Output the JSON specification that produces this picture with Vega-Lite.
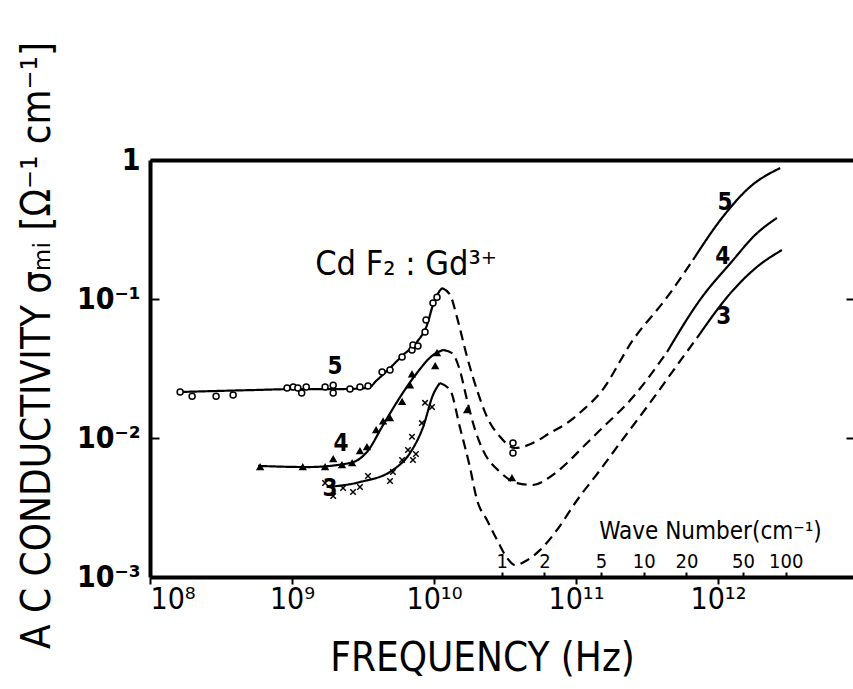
{
  "$schema": "https://vega.github.io/schema/vega-lite/v6.json",
  "width": 703,
  "height": 417,
  "autosize": {"type": "none"},
  "padding": {"left": 150, "top": 160, "right": 0, "bottom": 112},
  "background": "white",
  "config": {
    "view": {"stroke": null},
    "font": "DejaVu Sans Condensed, Liberation Sans Narrow, DejaVu Sans",
    "axis": {"grid": false, "domainColor": "black", "tickColor": "black", "labelColor": "black", "titleColor": "black",
      "labelFont": "DejaVu Sans Condensed, Liberation Sans Narrow, DejaVu Sans", "titleFont": "DejaVu Sans Condensed, Liberation Sans Narrow, DejaVu Sans", "titleFontWeight": "normal"}
  },
  "datasets": {
    "curves": [
      {"curve": "5", "segment": "5a", "style": "solid", "freq": 1.55e8, "sigma": 0.0214},
      {"curve": "5", "segment": "5a", "style": "solid", "freq": 5.06e8, "sigma": 0.0221},
      {"curve": "5", "segment": "5a", "style": "solid", "freq": 1.14e9, "sigma": 0.0225},
      {"curve": "5", "segment": "5a", "style": "solid", "freq": 2.18e9, "sigma": 0.0225},
      {"curve": "5", "segment": "5a", "style": "solid", "freq": 3.43e9, "sigma": 0.0229},
      {"curve": "5", "segment": "5a", "style": "solid", "freq": 3.97e9, "sigma": 0.0261},
      {"curve": "5", "segment": "5a", "style": "solid", "freq": 4.90e9, "sigma": 0.0319},
      {"curve": "5", "segment": "5a", "style": "solid", "freq": 6.05e9, "sigma": 0.0395},
      {"curve": "5", "segment": "5a", "style": "solid", "freq": 7.59e9, "sigma": 0.0491},
      {"curve": "5", "segment": "5a", "style": "solid", "freq": 8.93e9, "sigma": 0.0650},
      {"curve": "5", "segment": "5a", "style": "solid", "freq": 9.84e9, "sigma": 0.0906},
      {"curve": "5", "segment": "5a", "style": "solid", "freq": 1.07e10, "sigma": 0.110},
      {"curve": "5", "segment": "5a", "style": "solid", "freq": 1.14e10, "sigma": 0.120},
      {"curve": "5", "segment": "5b", "style": "dashed", "freq": 1.14e10, "sigma": 0.120},
      {"curve": "5", "segment": "5b", "style": "dashed", "freq": 1.30e10, "sigma": 0.107},
      {"curve": "5", "segment": "5b", "style": "dashed", "freq": 1.45e10, "sigma": 0.0743},
      {"curve": "5", "segment": "5b", "style": "dashed", "freq": 1.71e10, "sigma": 0.0383},
      {"curve": "5", "segment": "5b", "style": "dashed", "freq": 2.01e10, "sigma": 0.0221},
      {"curve": "5", "segment": "5b", "style": "dashed", "freq": 2.36e10, "sigma": 0.0142},
      {"curve": "5", "segment": "5b", "style": "dashed", "freq": 2.92e10, "sigma": 0.0102},
      {"curve": "5", "segment": "5b", "style": "dashed", "freq": 3.72e10, "sigma": 0.00847},
      {"curve": "5", "segment": "5b", "style": "dashed", "freq": 4.98e10, "sigma": 0.00920},
      {"curve": "5", "segment": "5b", "style": "dashed", "freq": 6.56e10, "sigma": 0.01086},
      {"curve": "5", "segment": "5b", "style": "dashed", "freq": 8.65e10, "sigma": 0.0128},
      {"curve": "5", "segment": "5b", "style": "dashed", "freq": 1.12e11, "sigma": 0.0159},
      {"curve": "5", "segment": "5b", "style": "dashed", "freq": 1.48e11, "sigma": 0.0211},
      {"curve": "5", "segment": "5b", "style": "dashed", "freq": 2.52e11, "sigma": 0.0507},
      {"curve": "5", "segment": "5b", "style": "dashed", "freq": 4.38e11, "sigma": 0.103},
      {"curve": "5", "segment": "5b", "style": "dashed", "freq": 6.67e11, "sigma": 0.191},
      {"curve": "5", "segment": "5c", "style": "solid", "freq": 6.67e11, "sigma": 0.191},
      {"curve": "5", "segment": "5c", "style": "solid", "freq": 1.08e12, "sigma": 0.389},
      {"curve": "5", "segment": "5c", "style": "solid", "freq": 1.68e12, "sigma": 0.640},
      {"curve": "5", "segment": "5c", "style": "solid", "freq": 2.74e12, "sigma": 0.875},
      {"curve": "4", "segment": "4a", "style": "solid", "freq": 5.77e8, "sigma": 0.00630},
      {"curve": "4", "segment": "4a", "style": "solid", "freq": 1.28e9, "sigma": 0.00618},
      {"curve": "4", "segment": "4a", "style": "solid", "freq": 2.56e9, "sigma": 0.00661},
      {"curve": "4", "segment": "4a", "style": "solid", "freq": 3.37e9, "sigma": 0.00793},
      {"curve": "4", "segment": "4a", "style": "solid", "freq": 4.38e9, "sigma": 0.0124},
      {"curve": "4", "segment": "4a", "style": "solid", "freq": 5.77e9, "sigma": 0.0197},
      {"curve": "4", "segment": "4a", "style": "solid", "freq": 7.59e9, "sigma": 0.0294},
      {"curve": "4", "segment": "4a", "style": "solid", "freq": 9.84e9, "sigma": 0.0395},
      {"curve": "4", "segment": "4a", "style": "solid", "freq": 1.16e10, "sigma": 0.0430},
      {"curve": "4", "segment": "4b", "style": "dashed", "freq": 1.16e10, "sigma": 0.0430},
      {"curve": "4", "segment": "4b", "style": "dashed", "freq": 1.34e10, "sigma": 0.0408},
      {"curve": "4", "segment": "4b", "style": "dashed", "freq": 1.52e10, "sigma": 0.0308},
      {"curve": "4", "segment": "4b", "style": "dashed", "freq": 1.71e10, "sigma": 0.0187},
      {"curve": "4", "segment": "4b", "style": "dashed", "freq": 1.95e10, "sigma": 0.0114},
      {"curve": "4", "segment": "4b", "style": "dashed", "freq": 2.21e10, "sigma": 0.00820},
      {"curve": "4", "segment": "4b", "style": "dashed", "freq": 2.92e10, "sigma": 0.00569},
      {"curve": "4", "segment": "4b", "style": "dashed", "freq": 3.85e10, "sigma": 0.00474},
      {"curve": "4", "segment": "4b", "style": "dashed", "freq": 4.98e10, "sigma": 0.00459},
      {"curve": "4", "segment": "4b", "style": "dashed", "freq": 6.56e10, "sigma": 0.00524},
      {"curve": "4", "segment": "4b", "style": "dashed", "freq": 8.65e10, "sigma": 0.00661},
      {"curve": "4", "segment": "4b", "style": "dashed", "freq": 1.12e11, "sigma": 0.00861},
      {"curve": "4", "segment": "4b", "style": "dashed", "freq": 1.48e11, "sigma": 0.0114},
      {"curve": "4", "segment": "4b", "style": "dashed", "freq": 2.52e11, "sigma": 0.0197},
      {"curve": "4", "segment": "4b", "style": "dashed", "freq": 4.38e11, "sigma": 0.0416},
      {"curve": "4", "segment": "4c", "style": "solid", "freq": 4.38e11, "sigma": 0.0416},
      {"curve": "4", "segment": "4c", "style": "solid", "freq": 7.46e11, "sigma": 0.0984},
      {"curve": "4", "segment": "4c", "style": "solid", "freq": 1.28e12, "sigma": 0.191},
      {"curve": "4", "segment": "4c", "style": "solid", "freq": 1.82e12, "sigma": 0.288},
      {"curve": "4", "segment": "4c", "style": "solid", "freq": 2.60e12, "sigma": 0.383},
      {"curve": "3", "segment": "3a", "style": "solid", "freq": 1.76e9, "sigma": 0.00444},
      {"curve": "3", "segment": "3a", "style": "solid", "freq": 3.01e9, "sigma": 0.00482},
      {"curve": "3", "segment": "3a", "style": "solid", "freq": 5.14e9, "sigma": 0.00589},
      {"curve": "3", "segment": "3a", "style": "solid", "freq": 6.78e9, "sigma": 0.00780},
      {"curve": "3", "segment": "3a", "style": "solid", "freq": 8.38e9, "sigma": 0.0120},
      {"curve": "3", "segment": "3a", "style": "solid", "freq": 9.84e9, "sigma": 0.0204},
      {"curve": "3", "segment": "3a", "style": "solid", "freq": 1.10e10, "sigma": 0.0249},
      {"curve": "3", "segment": "3b", "style": "dashed", "freq": 1.10e10, "sigma": 0.0249},
      {"curve": "3", "segment": "3b", "style": "dashed", "freq": 1.30e10, "sigma": 0.0221},
      {"curve": "3", "segment": "3b", "style": "dashed", "freq": 1.52e10, "sigma": 0.0120},
      {"curve": "3", "segment": "3b", "style": "dashed", "freq": 1.79e10, "sigma": 0.00618},
      {"curve": "3", "segment": "3b", "style": "dashed", "freq": 2.01e10, "sigma": 0.00358},
      {"curve": "3", "segment": "3b", "style": "dashed", "freq": 2.36e10, "sigma": 0.00257},
      {"curve": "3", "segment": "3b", "style": "dashed", "freq": 2.78e10, "sigma": 0.00185},
      {"curve": "3", "segment": "3b", "style": "dashed", "freq": 3.27e10, "sigma": 0.00137},
      {"curve": "3", "segment": "3b", "style": "dashed", "freq": 3.72e10, "sigma": 0.00122},
      {"curve": "3", "segment": "3b", "style": "dashed", "freq": 4.52e10, "sigma": 0.00132},
      {"curve": "3", "segment": "3b", "style": "dashed", "freq": 5.57e10, "sigma": 0.00156},
      {"curve": "3", "segment": "3b", "style": "dashed", "freq": 7.35e10, "sigma": 0.00218},
      {"curve": "3", "segment": "3b", "style": "dashed", "freq": 1.02e11, "sigma": 0.00358},
      {"curve": "3", "segment": "3b", "style": "dashed", "freq": 1.48e11, "sigma": 0.00589},
      {"curve": "3", "segment": "3b", "style": "dashed", "freq": 2.04e11, "sigma": 0.00920},
      {"curve": "3", "segment": "3b", "style": "dashed", "freq": 3.32e11, "sigma": 0.0179},
      {"curve": "3", "segment": "3b", "style": "dashed", "freq": 5.68e11, "sigma": 0.0383},
      {"curve": "3", "segment": "3b", "style": "dashed", "freq": 7.11e11, "sigma": 0.0524},
      {"curve": "3", "segment": "3c", "style": "solid", "freq": 7.11e11, "sigma": 0.0524},
      {"curve": "3", "segment": "3c", "style": "solid", "freq": 1.28e12, "sigma": 0.116},
      {"curve": "3", "segment": "3c", "style": "solid", "freq": 1.88e12, "sigma": 0.170},
      {"curve": "3", "segment": "3c", "style": "solid", "freq": 2.82e12, "sigma": 0.225}
    ],
    "points": [
      {"curve": "5", "freq": 1.63e8, "sigma": 0.0214},
      {"curve": "5", "freq": 1.98e8, "sigma": 0.0200},
      {"curve": "5", "freq": 2.92e8, "sigma": 0.0200},
      {"curve": "5", "freq": 3.85e8, "sigma": 0.0204},
      {"curve": "5", "freq": 9.23e8, "sigma": 0.0229},
      {"curve": "5", "freq": 1.02e9, "sigma": 0.0233},
      {"curve": "5", "freq": 1.10e9, "sigma": 0.0229},
      {"curve": "5", "freq": 1.17e9, "sigma": 0.0211},
      {"curve": "5", "freq": 1.26e9, "sigma": 0.0233},
      {"curve": "5", "freq": 1.71e9, "sigma": 0.0233},
      {"curve": "5", "freq": 1.95e9, "sigma": 0.0240},
      {"curve": "5", "freq": 1.95e9, "sigma": 0.0211},
      {"curve": "5", "freq": 2.56e9, "sigma": 0.0225},
      {"curve": "5", "freq": 3.01e9, "sigma": 0.0233},
      {"curve": "5", "freq": 3.43e9, "sigma": 0.0237},
      {"curve": "5", "freq": 4.31e9, "sigma": 0.0299},
      {"curve": "5", "freq": 4.90e9, "sigma": 0.0308},
      {"curve": "5", "freq": 5.96e9, "sigma": 0.0383},
      {"curve": "5", "freq": 7.00e9, "sigma": 0.0430},
      {"curve": "5", "freq": 7.11e9, "sigma": 0.0467},
      {"curve": "5", "freq": 7.71e9, "sigma": 0.0459},
      {"curve": "5", "freq": 8.65e9, "sigma": 0.0579},
      {"curve": "5", "freq": 8.79e9, "sigma": 0.0706},
      {"curve": "5", "freq": 9.84e9, "sigma": 0.0935},
      {"curve": "5", "freq": 1.05e10, "sigma": 0.103},
      {"curve": "5", "freq": 3.60e10, "sigma": 0.0092},
      {"curve": "5", "freq": 3.60e10, "sigma": 0.0078},
      {"curve": "4", "freq": 5.96e8, "sigma": 0.00618},
      {"curve": "4", "freq": 1.19e9, "sigma": 0.00618},
      {"curve": "4", "freq": 1.71e9, "sigma": 0.00618},
      {"curve": "4", "freq": 1.95e9, "sigma": 0.00706},
      {"curve": "4", "freq": 2.25e9, "sigma": 0.00640},
      {"curve": "4", "freq": 2.65e9, "sigma": 0.00661},
      {"curve": "4", "freq": 3.01e9, "sigma": 0.00805},
      {"curve": "4", "freq": 3.37e9, "sigma": 0.00861},
      {"curve": "4", "freq": 3.91e9, "sigma": 0.0114},
      {"curve": "4", "freq": 4.38e9, "sigma": 0.0132},
      {"curve": "4", "freq": 4.90e9, "sigma": 0.0139},
      {"curve": "4", "freq": 5.96e9, "sigma": 0.0182},
      {"curve": "4", "freq": 6.78e9, "sigma": 0.0240},
      {"curve": "4", "freq": 7.00e9, "sigma": 0.0288},
      {"curve": "4", "freq": 1.02e10, "sigma": 0.0330},
      {"curve": "4", "freq": 1.05e10, "sigma": 0.0409},
      {"curve": "4", "freq": 1.71e10, "sigma": 0.0159},
      {"curve": "4", "freq": 3.54e10, "sigma": 0.00515},
      {"curve": "3", "freq": 1.71e9, "sigma": 0.00474},
      {"curve": "3", "freq": 1.95e9, "sigma": 0.00383},
      {"curve": "3", "freq": 2.29e9, "sigma": 0.00437},
      {"curve": "3", "freq": 2.69e9, "sigma": 0.00409},
      {"curve": "3", "freq": 3.01e9, "sigma": 0.00444},
      {"curve": "3", "freq": 3.43e9, "sigma": 0.00533},
      {"curve": "3", "freq": 4.90e9, "sigma": 0.00491},
      {"curve": "3", "freq": 5.14e9, "sigma": 0.00569},
      {"curve": "3", "freq": 5.96e9, "sigma": 0.00695},
      {"curve": "3", "freq": 6.56e9, "sigma": 0.00820},
      {"curve": "3", "freq": 7.00e9, "sigma": 0.0102},
      {"curve": "3", "freq": 7.11e9, "sigma": 0.00695},
      {"curve": "3", "freq": 7.46e9, "sigma": 0.00767},
      {"curve": "3", "freq": 8.22e9, "sigma": 0.0128},
      {"curve": "3", "freq": 8.65e9, "sigma": 0.0179},
      {"curve": "3", "freq": 9.68e9, "sigma": 0.0167}
    ],
    "labels": [
      {"label": "5", "freq": 2.01e9, "sigma": 0.0324},
      {"label": "4", "freq": 2.21e9, "sigma": 0.00906},
      {"label": "3", "freq": 1.85e9, "sigma": 0.0043},
      {"label": "5", "freq": 1.12e12, "sigma": 0.491},
      {"label": "4", "freq": 1.08e12, "sigma": 0.200},
      {"label": "3", "freq": 1.10e12, "sigma": 0.0743}
    ],
    "title": [
      {"label": "Cd F₂ : Gd³⁺", "freq": 6.35e9, "sigma": 0.176}
    ]
  },
  "encoding": {
    "x": {"field": "freq", "type": "quantitative", "scale": {"type": "log", "domain": [1e8, 8.93e12], "nice": false}},
    "y": {"field": "sigma", "type": "quantitative", "scale": {"type": "log", "domain": [0.001, 1], "nice": false}}
  },
  "layer": [
    {
      "data": {"name": "curves"},
      "mark": {"type": "line", "color": "black", "strokeWidth": 2.2, "interpolate": "monotone"},
      "encoding": {
        "x": {"field": "freq", "type": "quantitative",
          "axis": {"orient": "bottom", "values": [1e8, 1e9, 1e10, 1e11, 1e12],
            "labelExpr": "datum.value == 1e8 ? '10⁸' : datum.value == 1e9 ? '10⁹' : datum.value == 1e10 ? '10¹⁰' : datum.value == 1e11 ? '10¹¹' : '10¹²'",
            "domainWidth": 4, "tickSize": 7, "tickWidth": 2, "labelFontSize": 30, "labelPadding": 0, "labelBaseline": "top",
            "title": "FREQUENCY (Hz)", "titleFontSize": 40, "titleX": 332, "titleY": 81, "titleBaseline": "middle", "titleAlign": "center"}},
        "y": {"field": "sigma", "type": "quantitative",
          "axis": {"orient": "left", "values": [0.001, 0.01, 0.1, 1],
            "labelExpr": "datum.value == 1 ? '1' : datum.value == 0.1 ? '10⁻¹' : datum.value == 0.01 ? '10⁻²' : '10⁻³'",
            "domainWidth": 4, "tickSize": -9, "tickWidth": 2, "labelFontSize": 30, "labelPadding": 19, "labelFontWeight": "bold",
            "title": "A C CONDUCTIVITY σₘᵢ [Ω⁻¹ cm⁻¹]", "titleFontSize": 40, "titleAngle": -90, "titleX": -113, "titleY": 185,
            "titleAlign": "center", "titleBaseline": "middle"}},
        "detail": {"field": "segment", "type": "nominal"},
        "strokeDash": {"field": "style", "type": "nominal", "scale": {"domain": ["solid", "dashed"], "range": [[1, 0], [10, 6]]}, "legend": null}
      }
    },
    {
      "data": {"name": "points"},
      "mark": {"type": "point", "stroke": "black", "strokeWidth": 1.5, "opacity": 1},
      "encoding": {
        "x": {"field": "freq", "type": "quantitative", "axis": null},
        "y": {"field": "sigma", "type": "quantitative", "axis": null},
        "shape": {"field": "curve", "type": "nominal", "scale": {"domain": ["5", "4", "3"], "range": ["circle", "triangle-up", "M-1,-1L1,1M-1,1L1,-1"]}, "legend": null},
        "fill": {"field": "curve", "type": "nominal", "scale": {"domain": ["5", "4", "3"], "range": ["white", "black", "transparent"]}, "legend": null},
        "size": {"field": "curve", "type": "nominal", "scale": {"domain": ["5", "4", "3"], "range": [36, 30, 30]}, "legend": null}
      }
    },
    {
      "data": {"name": "labels"},
      "mark": {"type": "text", "fontSize": 24, "fontWeight": "bold", "color": "black", "align": "center", "baseline": "middle"},
      "encoding": {
        "x": {"field": "freq", "type": "quantitative", "axis": null},
        "y": {"field": "sigma", "type": "quantitative", "axis": null},
        "text": {"field": "label"}
      }
    },
    {
      "data": {"name": "title"},
      "mark": {"type": "text", "fontSize": 34, "color": "black", "align": "center", "baseline": "middle"},
      "encoding": {
        "x": {"field": "freq", "type": "quantitative", "axis": null},
        "y": {"field": "sigma", "type": "quantitative", "axis": null},
        "text": {"field": "label"}
      }
    },
    {
      "data": {"name": "labels"},
      "mark": {"type": "point", "opacity": 0},
      "encoding": {
        "x": {"field": "freq", "type": "quantitative",
          "axis": {"orient": "top", "domainWidth": 4, "ticks": false, "labels": false, "title": null}},
        "y": {"field": "sigma", "type": "quantitative",
          "axis": {"orient": "right", "domain": false, "labels": false, "values": [0.01, 0.1], "tickSize": -7, "tickWidth": 2, "title": null}}
      }
    },
    {
      "data": {"name": "labels"},
      "mark": {"type": "point", "opacity": 0},
      "encoding": {
        "x": {"field": "freq", "type": "quantitative",
          "axis": {"orient": "top", "offset": -417, "domain": false, "tickSize": 5, "tickWidth": 2,
            "values": [2.998e10, 5.996e10, 1.499e11, 2.998e11, 5.996e11, 1.499e12, 2.998e12],
            "labelExpr": "format(datum.value / 2.998e10, '.0f')", "labelFontSize": 20, "labelPadding": 1,
            "title": "Wave Number(cm⁻¹)", "titleFontSize": 24, "titleX": 560, "titleY": -46, "titleAlign": "center", "titleBaseline": "middle"}},
        "y": {"field": "sigma", "type": "quantitative", "axis": null}
      }
    }
  ],
  "resolve": {"axis": {"x": "independent", "y": "independent"}}
}
